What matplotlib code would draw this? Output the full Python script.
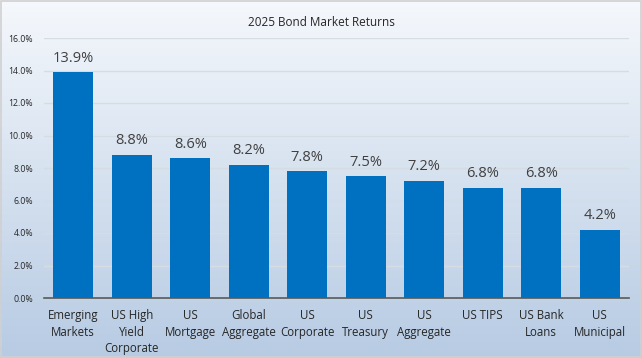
import matplotlib.pyplot as plt
import numpy as np
from matplotlib.colors import LinearSegmentedColormap
from matplotlib.ticker import PercentFormatter

categories = ["Emerging\nMarkets", "US High\nYield\nCorporate", "US\nMortgage",
              "Global\nAggregate", "US\nCorporate", "US\nTreasury", "US\nAggregate",
              "US TIPS", "US Bank\nLoans", "US\nMunicipal"]
returns = [13.9, 8.8, 8.6, 8.2, 7.8, 7.5, 7.2, 6.8, 6.8, 4.2]
yticks = [0, 2, 4, 6, 8, 10, 12, 14, 16]

plt.rcParams['font.family'] = ['Open Sans', 'DejaVu Sans']

fig = plt.figure(figsize=(6.42, 3.58), dpi=100)

# gradient background
bg = fig.add_axes([0, 0, 1, 1], zorder=0)
cmap = LinearSegmentedColormap.from_list("bg", ["#F5F8FC", "#B7CBE3"])
bg.imshow(np.linspace(0, 1, 256).reshape(-1, 1), aspect='auto', cmap=cmap,
          extent=[0, 1, 0, 1])
bg.set_axis_off()
border = plt.Rectangle((0.001, 0.002), 0.997, 0.995, transform=fig.transFigure,
                       fill=False, edgecolor="#D0D0D0", linewidth=1.2)
fig.patches.append(border)

ax = fig.add_axes([44 / 642, 1 - 298 / 358, 585 / 642, 260 / 358], zorder=1)
ax.patch.set_alpha(0)

x = np.arange(len(categories))
bars = ax.bar(x, returns, width=0.68, color="#0070C0", zorder=3)
for xi, v in zip(x, returns):
    ax.text(xi, v + 0.4, f"{v:.1f}%", ha='center', va='bottom',
            fontsize=10.5, color="#404040")

ax.set_xlim(-0.5, len(categories) - 0.5)
ax.set_ylim(0, 16)
ax.set_yticks(yticks)
ax.yaxis.set_major_formatter(PercentFormatter(decimals=1))
ax.set_xticks(x)
ax.set_xticklabels(categories, fontsize=8.3, color="#262626", linespacing=1.35)
ax.tick_params(axis='y', labelsize=6.3, colors="#262626", length=0, pad=8)
ax.tick_params(axis='x', length=0, pad=8)
ax.grid(axis='y', color="#D6DCE4", linewidth=1, zorder=0)
for side in ['top', 'right', 'left']:
    ax.spines[side].set_visible(False)
ax.spines['bottom'].set_color("#595959")
ax.spines['bottom'].set_linewidth(1.2)
ax.spines['bottom'].set_zorder(4)

fig.text(0.5, 1 - 22 / 358, "2025 Bond Market Returns", ha='center', va='center',
         fontsize=8.5, color="#262626")

fig.savefig("out.png", dpi=100)
